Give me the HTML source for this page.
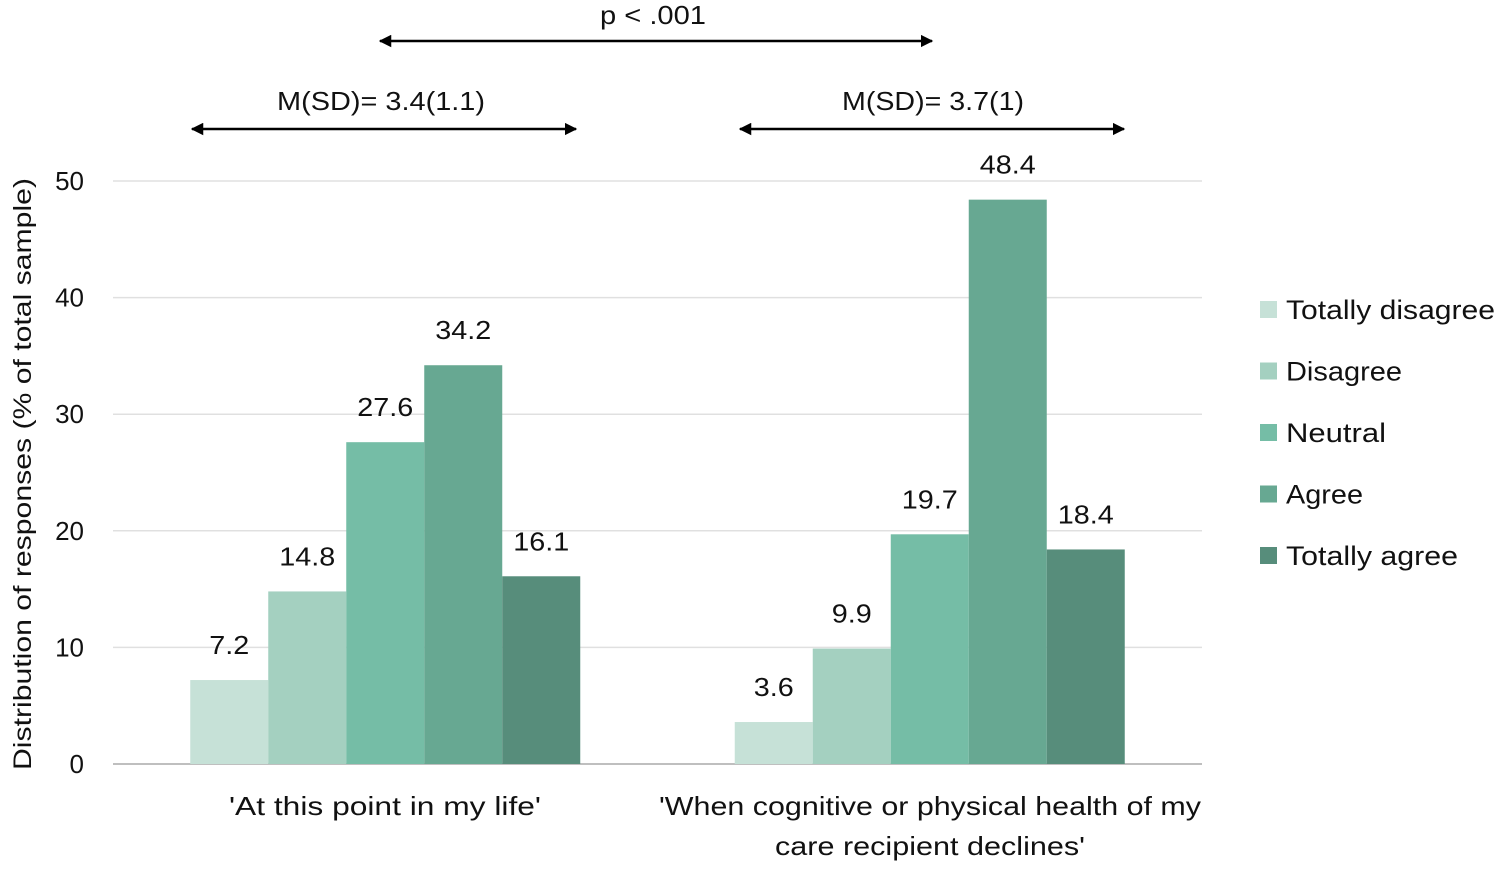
<!DOCTYPE html>
<html><head><meta charset="utf-8"><style>
body{margin:0;background:#fff;}
svg text{font-family:"Liberation Sans",sans-serif;fill:#111;}
</style></head><body>
<svg id="c" width="1500" height="868" xmlns="http://www.w3.org/2000/svg">
<defs><marker id="ah" viewBox="0 0 10 10" refX="9" refY="5" markerWidth="5" markerHeight="5" orient="auto-start-reverse"><path d="M0,0L10,5L0,10z" fill="#000"/></marker></defs>
<g id="grid"></g><g id="bars"></g><g id="labels"></g>
<text x="653" y="24" font-size="26" text-anchor="middle" textLength="106" lengthAdjust="spacingAndGlyphs">p &lt; .001</text>
<line x1="380" y1="41" x2="932" y2="41" stroke="#000" stroke-width="2.5" marker-start="url(#ah)" marker-end="url(#ah)"/>
<text x="381" y="110" font-size="26" text-anchor="middle" textLength="208" lengthAdjust="spacingAndGlyphs">M(SD)= 3.4(1.1)</text>
<line x1="192" y1="129" x2="576" y2="129" stroke="#000" stroke-width="2.5" marker-start="url(#ah)" marker-end="url(#ah)"/>
<text x="933" y="110" font-size="26" text-anchor="middle" textLength="182" lengthAdjust="spacingAndGlyphs">M(SD)= 3.7(1)</text>
<line x1="740" y1="129" x2="1124" y2="129" stroke="#000" stroke-width="2.5" marker-start="url(#ah)" marker-end="url(#ah)"/>
<text transform="translate(31,474) rotate(-90)" font-size="25" text-anchor="middle" textLength="592" lengthAdjust="spacingAndGlyphs">Distribution of responses (% of total sample)</text>
<text x="385" y="815" font-size="26" text-anchor="middle" textLength="312" lengthAdjust="spacingAndGlyphs">'At this point in my life'</text>
<text x="930" y="815" font-size="26" text-anchor="middle" textLength="542" lengthAdjust="spacingAndGlyphs">'When cognitive or physical health of my</text>
<text x="930" y="855" font-size="26" text-anchor="middle" textLength="310" lengthAdjust="spacingAndGlyphs">care recipient declines'</text>
<g id="legend"></g>
</svg>
<script>
const categories=["At this point in my life","When health declines"];
const seriesNames=["Totally disagree","Disagree","Neutral","Agree","Totally agree"];
const group1=[7.2,14.8,27.6,34.2,16.1];
const group2=[3.6,9.9,19.7,48.4,18.4];
const ticks=[0,10,20,30,40,50];
const colors=["#c6e1d7","#a4d0c0","#75bda6","#67a892","#578d7b"];
const NS="http://www.w3.org/2000/svg";
const x0=113,x1=1202,y0=764,yTop=181,yMax=50;
const y=v=>y0-(v/yMax)*(y0-yTop);
const catW=(x1-x0)/categories.length,barW=78;
const legendW=[209,116,100,77,172];
function mk(t,a,p){const e=document.createElementNS(NS,t);for(const k in a)e.setAttribute(k,a[k]);p.appendChild(e);return e;}
const grid=document.getElementById('grid');
ticks.forEach(t=>{
 const l=mk('line',{x1:x0,x2:x1,y1:y(t),y2:y(t),stroke:t===0?'#bfbfbf':'#e0e0e0','stroke-width':t===0?2:1.5},grid);
 
 
 const tx=mk('text',{x:84,y:y(t)+9,'font-size':26,'text-anchor':'end'},grid);tx.textContent=t;
 
 
});
const bars=document.getElementById('bars'),labels=document.getElementById('labels');
[group1,group2].forEach((vals,ci)=>{
 const cx=x0+catW*(ci+0.5);
 vals.forEach((v,si)=>{
  const bx=cx-barW*2.5+si*barW;
  const r=mk('rect',{x:bx,y:y(v),width:barW,height:y0-y(v),fill:colors[si]},bars);
  
  
  const t=mk('text',{x:bx+barW/2,y:y(v)-26,'font-size':26,'text-anchor':'middle',textLength:(v>=10?56:40),lengthAdjust:'spacingAndGlyphs'},labels);t.textContent=v.toFixed(1);
  
  
 });
});
const lg=document.getElementById('legend');
seriesNames.forEach((n,i)=>{
 const yy=309+i*61.5;
 const g=mk('g',{},lg);
 
 
 mk('rect',{x:1260,y:yy-8,width:17,height:17,fill:colors[i]},g);
 const t=mk('text',{x:1286,y:yy+10,'font-size':27,textLength:legendW[i],lengthAdjust:'spacingAndGlyphs'},g);t.textContent=n;
});
</script>
</body></html>
